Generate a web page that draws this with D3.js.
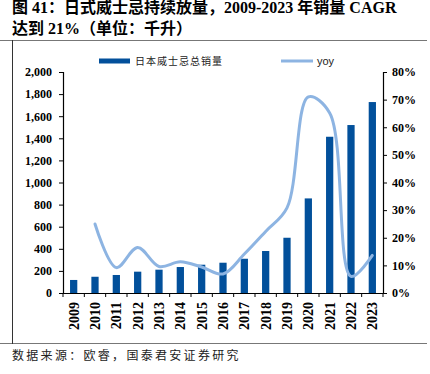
<!DOCTYPE html>
<html>
<head>
<meta charset="utf-8">
<style>
  body { margin: 0; background: #fff; }
</style>
</head>
<body>
<svg id="chart" width="430" height="374"></svg>
<script src="https://cdn.jsdelivr.net/npm/d3@7"></script>
<script>
const years = ["2009","2010","2011","2012","2013","2014","2015","2016","2017","2018","2019","2020","2021","2022","2023"];
const sales = [118, 147, 163, 193, 211, 235, 256, 274, 310, 380, 500, 856, 1414, 1520, 1728];
const yoy = [null, 25.0, 9.2, 16.5, 9.6, 11.3, 9.4, 6.9, 14.1, 22.3, 30.8, 71.0, 65.2, 6.0, 13.6];
const leftTicks = [0, 200, 400, 600, 800, 1000, 1200, 1400, 1600, 1800, 2000];
const rightTicks = [0, 10, 20, 30, 40, 50, 60, 70, 80];

const BAR = "#02509b", LINE = "#8db4e2";
const SERIF = "'Liberation Serif', 'Noto Sans CJK SC', serif";
const CJK = "'Noto Sans CJK SC', sans-serif";
const svg = d3.select("#chart");

// title + frame
svg.append("text").attr("x", 12).attr("y", 13).attr("font-size", 16).attr("font-weight", "bold")
   .attr("font-family", SERIF)
   .text("图 41：日式威士忌持续放量，2009-2023 年销量 CAGR");
svg.append("text").attr("x", 12).attr("y", 34).attr("font-size", 16).attr("font-weight", "bold")
   .attr("font-family", SERIF)
   .text("达到 21%（单位：千升）");
svg.append("line").attr("x1", 0).attr("x2", 427).attr("y1", 40.5).attr("y2", 40.5).attr("stroke", "#777");
svg.append("line").attr("x1", 0).attr("x2", 427).attr("y1", 343.5).attr("y2", 343.5).attr("stroke", "#777");
svg.append("line").attr("x1", 12.5).attr("x2", 12.5).attr("y1", 40).attr("y2", 344).attr("stroke", "#333");
svg.append("text").attr("x", 12).attr("y", 360).attr("font-size", 12).attr("letter-spacing", 2.3)
   .attr("font-family", CJK).attr("fill", "#222")
   .text("数据来源：欧睿，国泰君安证券研究");

const x = d3.scaleBand().domain(years).range([63, 383]).paddingInner(0.66).paddingOuter(0.33);
const yL = d3.scaleLinear().domain([0, 2000]).range([293, 72]);
const yR = d3.scaleLinear().domain([0, 80]).range([293, 72]);

// bars
svg.append("g").selectAll("rect").data(sales).join("rect")
   .attr("x", (d, i) => x(years[i]))
   .attr("width", x.bandwidth())
   .attr("y", d => yL(d))
   .attr("height", d => yL(0) - yL(d))
   .attr("fill", BAR);

// yoy line
const line = d3.line()
   .defined(d => d != null)
   .x((d, i) => x(years[i]) + x.bandwidth() / 2)
   .y(d => yR(d))
   .curve(d3.curveCatmullRom.alpha(0.5));
svg.append("path").datum(yoy).attr("d", line).attr("fill", "none")
   .attr("stroke", LINE).attr("stroke-width", 3).attr("stroke-linecap", "round");

// axes
const gl = svg.append("g").attr("transform", "translate(63,0)")
   .call(d3.axisLeft(yL).tickValues(leftTicks).tickFormat(d3.format(",")).tickSizeOuter(0).tickSize(4));
const gr = svg.append("g").attr("transform", "translate(383,0)")
   .call(d3.axisRight(yR).tickValues(rightTicks).tickFormat(d => d + "%").tickSizeOuter(0).tickSize(4));
const gx = svg.append("g").attr("transform", "translate(0,293)")
   .call(d3.axisBottom(x).tickSize(0).tickSizeOuter(0));

// category boundary ticks
svg.append("g").selectAll("line").data(d3.range(years.length + 1)).join("line")
   .attr("x1", i => 63 + i * (320 / years.length)).attr("x2", i => 63 + i * (320 / years.length))
   .attr("y1", 293).attr("y2", 297).attr("stroke", "#000");

[gl, gr, gx].forEach(g => {
  g.selectAll("path.domain").attr("stroke", "#000").attr("stroke-width", 1.2);
  g.selectAll(".tick line").attr("stroke", "#000");
  g.selectAll("text").attr("font-family", "'Liberation Serif', serif")
   .attr("font-size", 12).attr("font-weight", "bold").attr("fill", "#000");
});
gl.selectAll("text").attr("x", -11);
gr.selectAll("text").attr("x", 9);
gx.selectAll("text")
   .attr("transform", "rotate(-90)")
   .attr("text-anchor", "end")
   .attr("x", -9).attr("y", 0).attr("dy", "0.35em")
   .attr("font-size", 14);

// legend
const lg = svg.append("g").attr("font-family", CJK).attr("font-size", 10);
lg.append("rect").attr("x", 99).attr("y", 58.5).attr("width", 31).attr("height", 5).attr("fill", BAR);
lg.append("text").attr("x", 135).attr("y", 65).attr("fill", "#222").attr("letter-spacing", 1)
   .text("日本威士忌总销量");
lg.append("line").attr("x1", 281).attr("x2", 313).attr("y1", 61).attr("y2", 61)
   .attr("stroke", LINE).attr("stroke-width", 3);
lg.append("text").attr("x", 317).attr("y", 65).attr("fill", "#222").attr("font-size", 11)
   .attr("font-family", "'Liberation Sans', sans-serif").text("yoy");
</script>
</body>
</html>
